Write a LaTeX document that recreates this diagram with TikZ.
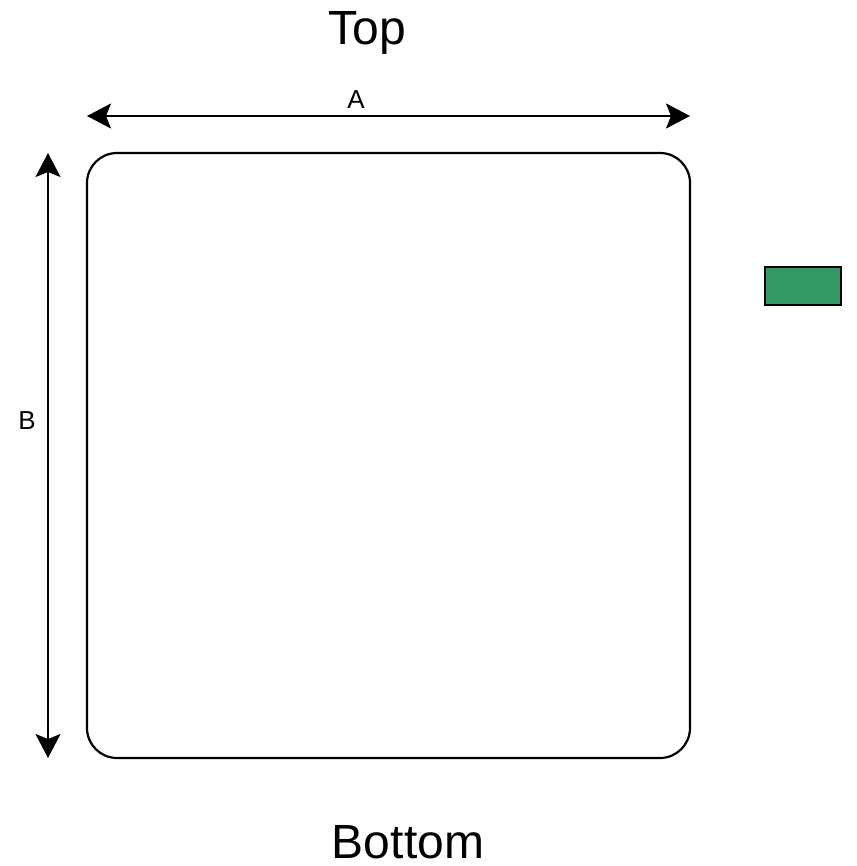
\documentclass[tikz,border=0pt]{standalone}
\usepackage{fontspec}
\setmainfont{Liberation Sans}
\usetikzlibrary{arrows.meta}

\definecolor{padgreen}{RGB}{51,153,102}

\tikzset{
	dimline/.style={line width=2.2pt,{Stealth[length=24pt,width=25pt,inset=5pt]}-{Stealth[length=24pt,width=25pt,inset=5pt]}},
	bigtext/.style={font=\fontsize{48}{48}\selectfont,inner sep=0,anchor=base},
	dimtext/.style={font=\fontsize{26}{26}\selectfont,inner sep=0,anchor=base}
}

\begin{document}
\begin{tikzpicture}[x=1pt,y=-1pt]
	\useasboundingbox (0,0) rectangle (856,866);
	\node[bigtext] (top) at (367,45) {Top};
	\node[bigtext] (bottom) at (408,858) {Bottom};
	\node[draw,line width=2.2pt,rounded corners=30pt,inner sep=0,minimum width=603pt,minimum height=605pt] (board) at (388.5,455.5) {};
	\node[draw,line width=2.2pt,fill=padgreen,inner sep=0,minimum width=76pt,minimum height=38pt] (pad) at (803,286) {};
	\coordinate (a1) at (87,116);
	\coordinate (a2) at (690,116);
	\coordinate (b1) at (48,153);
	\coordinate (b2) at (48,758);
	\draw[dimline] (a1) -- (a2);
	\draw[dimline] (b1) -- (b2);
	\node[dimtext] (lblA) at (356,109) {A};
	\node[dimtext] (lblB) at (27,429) {B};
\end{tikzpicture}
\end{document}
